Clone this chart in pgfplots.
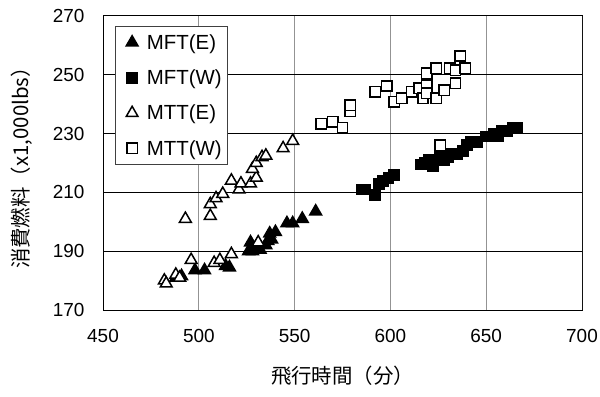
\documentclass[border=0pt]{standalone}
\usepackage{fontspec}
\setmainfont{Liberation Sans}
\newfontfamily\jp{Noto Sans CJK JP}
\usepackage{pgfplots}
\pgfplotsset{compat=1.18}

% fuel burn vs. flight time, four route groups
\pgfplotstableread{
x y
488 181
491 181.5
498 183.5
503 183.5
514 185
516 184.5
526 190
527 193
528 190
530 191
532 190.5
535 192
536 193.5
537 196
538 194
540 196.5
546 199.5
549 199.5
554 201
561 203.5
}\mftE
\pgfplotstableread{
x y
585 211
587 211
592 209
594 213
596 214
599 215
602 216
616 219.5
618 220
620 221
622 219
624 221
626 222
628 221
630 222
632 223
635 223
638 224
640 226
642 227
645 227
650 229
654 230
656 229
658 231
661 231
664 232
666 232
}\mftW
\pgfplotstableread{
x y
482 180
483 179
488 182
490 181
493 201
496 187
506 202
506 206
509 208
508 186
511 187
512.5 209.5
517 214
517 189
521 211
522 213
527 213
530 215
528 218
530 220
533 222
535 222.5
531 193
544 225
549 227.5
}\mttE
\pgfplotstableread{
x y
564 233.3
570 234
575 232
579 237.5
579 239.7
592 244.3
598 246.2
602 240.8
606 242
611 244.3
615 245.4
617 242
619 250.5
619 246.5
619 243.7
624 252.2
624 242
628 244.8
631 252.2
634 251.6
634 247.1
636.5 256.4
639 252.2
626 226
}\mttW

\begin{document}
\begin{tikzpicture}
\useasboundingbox (0,0) rectangle (600bp,397bp);
\begin{axis}[
  at={(103bp,87bp)}, anchor=south west,
  scale only axis, width=479bp, height=294bp,
  xmin=450, xmax=700, ymin=170, ymax=270,
  xtick={450,500,...,700}, ytick={170,190,...,270},
  grid=major,
  x grid style={gray!85, line width=1bp},
  y grid style={black, line width=1bp},
  axis line style={black, line width=1bp},
  major tick length=0pt,
  /pgf/number format/assume math mode=true,
  /pgf/number format/1000 sep={},
  tick label style={font=\fontsize{19}{21}\selectfont},
  xticklabel style={yshift=-16bp},
  yticklabel style={xshift=-15bp},
  xlabel={\jp 飛行時間（分）},
  ylabel={\jp 消費燃料（x1,000lbs）},
  xlabel style={at={([yshift=-66bp]axis description cs:0.5,0)}, anchor=center, font=\fontsize{20.5}{22}\selectfont},
  ylabel style={at={([xshift=-81bp]axis description cs:0,0.5)}, anchor=center, font=\fontsize{20.5}{22}\selectfont},
  legend style={at={(rel axis cs:0.025,0.966)}, anchor=north west,
    draw=black!75, line width=0.8bp, fill=white,
    font=\fontsize{20.5}{22}\selectfont,
    row sep=15bp, inner xsep=4bp, inner ysep=6bp},
  legend cell align=left,
  legend image code/.code={%
    \path (0bp,0bp) (24bp,0bp);
    \draw[#1] plot coordinates {(12bp,0bp)};},
  every axis plot/.append style={only marks, line width=1.5bp},
]
\addplot[mark=triangle*, mark size=6.8bp, draw=black, fill=black] table {\mftE};
\addlegendentry{MFT(E)}
\addplot[mark=square*, mark size=5.2bp, draw=black, fill=black] table {\mftW};
\addlegendentry{MFT(W)}
\addplot[mark=triangle*, mark size=6.8bp, draw=black, fill=white] table {\mttE};
\addlegendentry{MTT(E)}
\addplot[mark=square*, mark size=5.2bp, draw=black, fill=white] table {\mttW};
\addlegendentry{MTT(W)}
\draw[gray!85, line width=1bp] (rel axis cs:1,0) -- (rel axis cs:1,1);
\end{axis}
\end{tikzpicture}
\end{document}
